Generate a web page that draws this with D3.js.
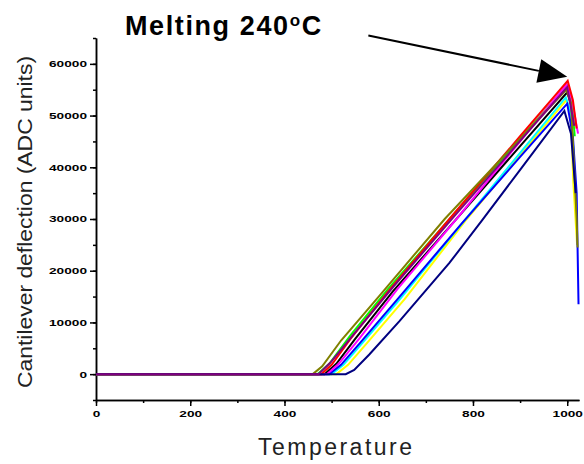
<!DOCTYPE html>
<html>
<head>
<meta charset="utf-8">
<script src="https://cdn.jsdelivr.net/npm/d3@7"></script>
<style>
  body { margin: 0; background: #fff; }
  svg { display: block; font-family: "Liberation Sans", Arial, sans-serif; }
</style>
</head>
<body>
<svg id="chart" width="584" height="464"></svg>
<script>
// deflection runs, [temperature, ADC units]
const runOlive = [[0,0],[460,0],[480,1500],[520,6500],[600,15000],[740,30000],[880,43600],[998,55000],[1008,52500],[1020,30000],[1022,24500]];
const runGreen = [[0,0],[470,0],[495,2000],[540,7500],[620,16500],[760,31000],[900,45500],[1000,55800],[1010,52500],[1016,46000]];
const runRed = [[0,0],[478,0],[500,1800],[540,6800],[620,16000],[750,30000],[900,46000],[1001,56700],[1012,53000],[1020,47500]];
const runBlack = [[0,0],[485,0],[510,2000],[550,6800],[630,16000],[760,29500],[900,44100],[1000,54500],[1010,51500]];
const runMagenta = [[0,0],[490,0],[515,2000],[560,7000],[640,16500],[765,30000],[900,45000],[999,56000],[1010,53000],[1023,46500]];
const runBlue = [[0,0],[495,0],[520,1800],[560,6000],[640,14500],[775,29000],[900,42000],[1000,52300],[1012,46000],[1020,35000],[1024,13500]];
const runCyan = [[0,0],[500,0],[525,1800],[565,6000],[645,14500],[780,29500],[900,42800],[997,53500],[1008,50500],[1014,42000]];
const runYellow = [[0,0],[510,0],[535,1800],[575,6000],[655,14500],[787,30000],[900,42300],[998,53000],[1008,50000],[1013,37000],[1021,25000]];
const runNavy = [[0,0],[530,0],[548,800],[580,3800],[644,10250],[750,21500],[818,29600],[900,39500],[994,50900],[1008,46500],[1018,35000]];
const runPurple = [[0,0],[472,0],[497,2200],[545,7500],[630,16800],[760,30500],[900,45100],[1000,55500],[1015,48000]];

const runs = [runYellow, runCyan, runBlue, runBlack, runGreen, runMagenta, runRed, runOlive, runNavy, runPurple];
const runColors = ["#ffff00", "#00ffff", "#0000ff", "#000000", "#00ff00", "#ff00ff", "#ff0000", "#808000", "#000080", "#800080"];

const xTicks = [0, 200, 400, 600, 800, 1000];
const yTicks = [0, 10000, 20000, 30000, 40000, 50000, 60000];

// arrow: from label to the melting peak
const arrowFrom = [578, 65500];
const arrowTo = [1000, 57500];

const svg = d3.select("#chart");

const x = d3.scaleLinear().domain([0, 1025]).range([96, 579]);
const y = d3.scaleLinear().domain([-5000, 65000]).range([400, 38]);

// minor ticks
svg.append("g")
    .attr("transform", "translate(0,400)")
    .call(d3.axisBottom(x).tickValues(d3.range(0, 1001, 100)).tickSize(3).tickSizeOuter(0).tickFormat(""));
svg.append("g")
    .attr("transform", "translate(96,0)")
    .call(d3.axisLeft(y).tickValues(d3.range(-5000, 65001, 5000)).tickSize(3).tickSizeOuter(0).tickFormat(""));

// major ticks
let xAxis = svg.append("g")
    .attr("transform", "translate(0,400)")
    .call(d3.axisBottom(x).tickValues(xTicks).tickSize(6).tickSizeOuter(0).tickPadding(5).tickFormat(d3.format("d")));
let yAxis = svg.append("g")
    .attr("transform", "translate(96,0)")
    .call(d3.axisLeft(y).tickValues(yTicks).tickSize(6).tickSizeOuter(0).tickPadding(3).tickFormat(d3.format("d")));

[xAxis, yAxis].forEach(a => {
    a.selectAll("text")
        .attr("font-size", 9)
        .attr("font-weight", "bold")
        .attr("fill", "#000")
        .attr("textLength", d => String(d).length * 7.6)
        .attr("lengthAdjust", "spacingAndGlyphs");
});
svg.selectAll("g path.domain, g line").attr("stroke", "#000").attr("stroke-width", 1.5);

// curves
const line = d3.line().x(d => x(d[0])).y(d => y(d[1]));

svg.append("g")
    .selectAll("path")
    .data(runs)
    .enter()
    .append("path")
    .attr("d", line)
    .attr("fill", "none")
    .attr("stroke", (d, i) => runColors[i])
    .attr("stroke-width", 2)
    .attr("stroke-linejoin", "miter");

// axis titles
svg.append("text")
    .attr("transform", "translate(32,222) rotate(-90)")
    .attr("text-anchor", "middle")
    .attr("font-size", 21)
    .attr("fill", "#222")
    .attr("textLength", 332)
    .attr("lengthAdjust", "spacingAndGlyphs")
    .text("Cantilever deflection (ADC units)");

svg.append("text")
    .attr("x", 335)
    .attr("y", 455)
    .attr("text-anchor", "middle")
    .attr("font-size", 23)
    .attr("fill", "#222")
    .attr("textLength", 154)
    .attr("lengthAdjust", "spacing")
    .text("Temperature");

// annotation
let title = svg.append("text")
    .attr("x", 125)
    .attr("y", 35)
    .attr("font-size", 27)
    .attr("font-weight", "bold")
    .attr("letter-spacing", 1.6)
    .attr("fill", "#000");
title.append("tspan").text("Melting 240");
title.append("tspan").attr("font-size", 17).attr("dy", -9).text("o");
title.append("tspan").attr("dy", 9).text("C");

let x0 = x(arrowFrom[0]), y0 = y(arrowFrom[1]);
let x1 = x(arrowTo[0]), y1 = y(arrowTo[1]);
let ang = Math.atan2(y1 - y0, x1 - x0);
let headLen = 29, headW = 12;
let bx = x1 - headLen * Math.cos(ang), by = y1 - headLen * Math.sin(ang);

svg.append("line")
    .attr("x1", x0).attr("y1", y0)
    .attr("x2", bx).attr("y2", by)
    .attr("stroke", "#000")
    .attr("stroke-width", 2);

svg.append("path")
    .attr("d", `M${x1},${y1}L${bx + headW * Math.sin(ang)},${by - headW * Math.cos(ang)}L${bx - headW * Math.sin(ang)},${by + headW * Math.cos(ang)}Z`)
    .attr("fill", "#000");
</script>
</body>
</html>
